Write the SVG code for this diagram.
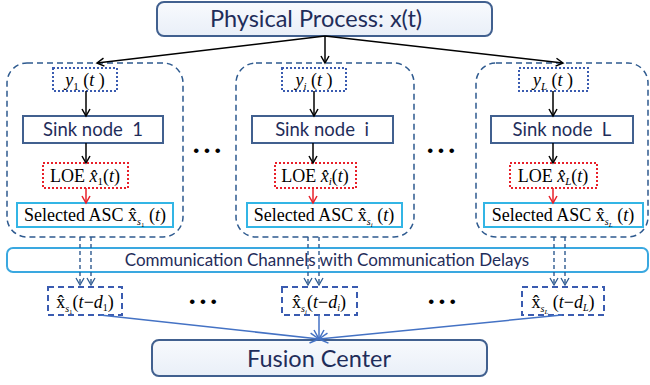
<svg xmlns="http://www.w3.org/2000/svg" width="650" height="385" viewBox="0 0 650 385">
<defs>
<linearGradient id="g" x1="0" y1="0" x2="0" y2="1"><stop offset="0" stop-color="#f8fafd"/><stop offset="1" stop-color="#e9eff8"/></linearGradient>
<marker id="ab" markerWidth="10" markerHeight="10" refX="8" refY="5" orient="auto" markerUnits="userSpaceOnUse"><path d="M1,1 L8,5 L1,9" fill="none" stroke="#000" stroke-width="1.5"/></marker>
<marker id="ar" markerWidth="10" markerHeight="10" refX="8" refY="5" orient="auto" markerUnits="userSpaceOnUse"><path d="M1,1 L8,5 L1,9" fill="none" stroke="#e8202a" stroke-width="1.5"/></marker>
<marker id="ad" markerWidth="10" markerHeight="10" refX="8" refY="5" orient="auto" markerUnits="userSpaceOnUse"><path d="M1,1 L8,5 L1,9" fill="none" stroke="#2e5a8f" stroke-width="1.3"/></marker>
<marker id="af" markerWidth="12" markerHeight="12" refX="10" refY="6" orient="auto" markerUnits="userSpaceOnUse"><path d="M1,1 L10,6 L1,11" fill="none" stroke="#4472c4" stroke-width="1.5"/></marker>
</defs>
<style>
.big{fill:url(#g);stroke:#41608f;stroke-width:2}
.bigt{font-family:Lato,"Open Sans","Liberation Sans",sans-serif;font-size:23.5px;fill:#1f2d5a;text-anchor:middle}
.outer{fill:none;stroke:#2e5a8f;stroke-width:1.5;stroke-dasharray:6,4}
.ybox{fill:none;stroke:#3a5bb0;stroke-width:2;stroke-dasharray:2,2}
.sink{fill:#fff;stroke:#41608f;stroke-width:2}
.sinkt{font-family:Lato,"Open Sans","Liberation Sans",sans-serif;font-size:18.5px;fill:#1f2d5a;text-anchor:middle}
.loe{fill:#fff;stroke:#e8202a;stroke-width:2;stroke-dasharray:2,2}
.asc{fill:#fff;stroke:#33b5e5;stroke-width:2}
.math{font-family:"Liberation Serif","Times New Roman",serif;font-size:18px;fill:#000;text-anchor:middle}
.it{font-style:italic}
.comm{fill:#fff;stroke:#3aa8e0;stroke-width:2}
.commt{font-family:Lato,"Open Sans","Liberation Sans",sans-serif;font-size:17px;fill:#1f2d5a;text-anchor:middle}
.obox{fill:none;stroke:#3a5bb0;stroke-width:2;stroke-dasharray:6,4}
.dots{font-family:"Liberation Sans",sans-serif;font-size:17px;fill:#000;text-anchor:middle}
.c-blk{fill:none;stroke:#000;stroke-width:1.5}
.c-red{fill:none;stroke:#e8202a;stroke-width:1.5}
.c-dash{fill:none;stroke:#2e5a8f;stroke-width:1.4;stroke-dasharray:4,3}
.c-fus{fill:none;stroke:#4472c4;stroke-width:1.5}
</style>

<g id="physical-process"><rect class="big" x="157" y="2" width="335" height="34" rx="7"/><text class="bigt" x="316" y="27">Physical Process: x(t)</text></g>

<g id="cluster-1"><rect class="outer" x="7" y="63" width="176" height="174" rx="20"/></g>
<g id="cluster-i"><rect class="outer" x="236" y="63" width="178" height="174" rx="20"/></g>
<g id="cluster-L"><rect class="outer" x="476" y="63" width="172" height="174" rx="20"/></g>

<g id="y1"><rect class="ybox" x="53" y="68" width="64" height="23"/><text class="math" x="85" y="86"><tspan class="it">y</tspan><tspan font-size="11" dy="4">1</tspan><tspan dy="-4"> (</tspan><tspan class="it">t</tspan> )</text></g>
<g id="yi"><rect class="ybox" x="282" y="68" width="64" height="23"/><text class="math" x="314" y="86"><tspan class="it">y</tspan><tspan class="it" font-size="11" dy="4">i</tspan><tspan dy="-4"> (</tspan><tspan class="it">t</tspan> )</text></g>
<g id="yL"><rect class="ybox" x="519" y="68" width="69" height="23"/><text class="math" x="553" y="86"><tspan class="it">y</tspan><tspan class="it" font-size="11" dy="4">L</tspan><tspan dy="-4"> (</tspan><tspan class="it">t</tspan> )</text></g>

<g id="sink-1"><rect class="sink" x="23" y="116" width="140" height="27"/><text class="sinkt" x="93" y="136" xml:space="preserve">Sink node  1</text></g>
<g id="sink-i"><rect class="sink" x="252" y="116" width="141" height="27"/><text class="sinkt" x="322" y="136" xml:space="preserve">Sink node  i</text></g>
<g id="sink-L"><rect class="sink" x="491" y="116" width="142" height="27"/><text class="sinkt" x="562" y="136" xml:space="preserve">Sink node  L</text></g>

<g id="loe-1"><rect class="loe" x="43" y="163" width="85" height="25"/><text class="math" x="85" y="182">LOE <tspan class="it">x̂</tspan><tspan font-size="11" dy="3">1</tspan><tspan dy="-3">(</tspan><tspan class="it">t</tspan>)</text></g>
<g id="loe-i"><rect class="loe" x="275" y="163" width="81" height="25"/><text class="math" x="315" y="182">LOE <tspan class="it">x̂</tspan><tspan class="it" font-size="11" dy="3">i</tspan><tspan dy="-3">(</tspan><tspan class="it">t</tspan>)</text></g>
<g id="loe-L"><rect class="loe" x="510" y="163" width="87" height="25"/><text class="math" x="553" y="182">LOE <tspan class="it">x̂</tspan><tspan class="it" font-size="11" dy="3">L</tspan><tspan dy="-3">(</tspan><tspan class="it">t</tspan>)</text></g>

<g id="asc-1"><rect class="asc" x="17" y="203" width="156" height="24"/><text class="math" x="95" y="221" font-size="17.5">Selected ASC x̂<tspan font-size="10" dy="4" class="it">s</tspan><tspan font-size="7" dy="2">1</tspan><tspan dy="-6"> (</tspan><tspan class="it">t</tspan>)</text></g>
<g id="asc-i"><rect class="asc" x="247" y="203" width="155" height="24"/><text class="math" x="324" y="221" font-size="17.5">Selected ASC x̂<tspan font-size="10" dy="4" class="it">s</tspan><tspan font-size="7" dy="2" class="it">i</tspan><tspan dy="-6"> (</tspan><tspan class="it">t</tspan>)</text></g>
<g id="asc-L"><rect class="asc" x="484" y="203" width="159" height="24"/><text class="math" x="563" y="221" font-size="17.5">Selected ASC x̂<tspan font-size="10" dy="4" class="it">s</tspan><tspan font-size="7" dy="2" class="it">L</tspan><tspan dy="-6"> (</tspan><tspan class="it">t</tspan>)</text></g>

<g id="dots-top-1"><text class="dots" x="207" y="156">• • •</text></g>
<g id="dots-top-2"><text class="dots" x="441" y="156">• • •</text></g>

<g id="comm-channels"><rect class="comm" x="7" y="248" width="641" height="24" rx="6"/><text class="commt" x="327" y="266">Communication Channels with Communication Delays</text></g>

<g id="out-1"><rect class="obox" x="48" y="287" width="74" height="28"/><text class="math" x="85" y="308" font-size="20">x̂<tspan font-size="10" dy="4" class="it">s</tspan><tspan font-size="7" dy="2">1</tspan><tspan dy="-6">(</tspan><tspan class="it">t</tspan>−<tspan class="it">d</tspan><tspan font-size="10" dy="3">1</tspan><tspan dy="-3">)</tspan></text></g>
<g id="out-i"><rect class="obox" x="282" y="287" width="75" height="28"/><text class="math" x="319" y="308" font-size="20">x̂<tspan font-size="10" dy="4" class="it">s</tspan><tspan font-size="7" dy="2" class="it">i</tspan><tspan dy="-6">(</tspan><tspan class="it">t</tspan>−<tspan class="it">d</tspan><tspan font-size="10" dy="3" class="it">i</tspan><tspan dy="-3">)</tspan></text></g>
<g id="out-L"><rect class="obox" x="522" y="287" width="82" height="28"/><text class="math" x="563" y="308" font-size="20">x̂<tspan font-size="10" dy="4" class="it">s</tspan><tspan font-size="7" dy="2" class="it">L</tspan><tspan dy="-6"> (</tspan><tspan class="it">t</tspan>−<tspan class="it">d</tspan><tspan font-size="10" dy="3" class="it">L</tspan><tspan dy="-3">)</tspan></text></g>

<g id="dots-bot-1"><text class="dots" x="203" y="307">• • •</text></g>
<g id="dots-bot-2"><text class="dots" x="442" y="307">• • •</text></g>

<g id="fusion-center"><rect class="big" x="152" y="340" width="335" height="36" rx="7"/><text class="bigt" x="319" y="367">Fusion Center</text></g>

<g id="connectors">
<line class="c-blk" x1="325" y1="36" x2="97" y2="63" marker-end="url(#ab)"/>
<line class="c-blk" x1="325" y1="36" x2="325" y2="63" marker-end="url(#ab)"/>
<line class="c-blk" x1="325" y1="36" x2="563" y2="63" marker-end="url(#ab)"/>
<line class="c-blk" x1="86" y1="91" x2="86" y2="116" marker-end="url(#ab)"/>
<line class="c-blk" x1="314" y1="91" x2="314" y2="116" marker-end="url(#ab)"/>
<line class="c-blk" x1="553" y1="91" x2="553" y2="116" marker-end="url(#ab)"/>
<line class="c-blk" x1="86" y1="143" x2="86" y2="163" marker-end="url(#ab)"/>
<line class="c-blk" x1="313" y1="143" x2="313" y2="163" marker-end="url(#ab)"/>
<line class="c-blk" x1="553" y1="143" x2="553" y2="163" marker-end="url(#ab)"/>
<line class="c-red" x1="86" y1="188" x2="86" y2="203" marker-end="url(#ar)"/>
<line class="c-red" x1="313" y1="188" x2="313" y2="203" marker-end="url(#ar)"/>
<line class="c-red" x1="553" y1="188" x2="553" y2="203" marker-end="url(#ar)"/>
<line class="c-dash" x1="80" y1="237" x2="80" y2="285" marker-end="url(#ad)"/>
<line class="c-dash" x1="91" y1="237" x2="91" y2="285" marker-end="url(#ad)"/>
<line class="c-dash" x1="308" y1="237" x2="308" y2="285" marker-end="url(#ad)"/>
<line class="c-dash" x1="319" y1="237" x2="319" y2="285" marker-end="url(#ad)"/>
<line class="c-dash" x1="554" y1="237" x2="554" y2="285" marker-end="url(#ad)"/>
<line class="c-dash" x1="565" y1="237" x2="565" y2="285" marker-end="url(#ad)"/>
<line class="c-fus" x1="100" y1="315" x2="319" y2="339" marker-end="url(#af)"/>
<line class="c-fus" x1="319" y1="315" x2="319" y2="339" marker-end="url(#af)"/>
<line class="c-fus" x1="562" y1="315" x2="319" y2="339" marker-end="url(#af)"/>
</g>
</svg>
